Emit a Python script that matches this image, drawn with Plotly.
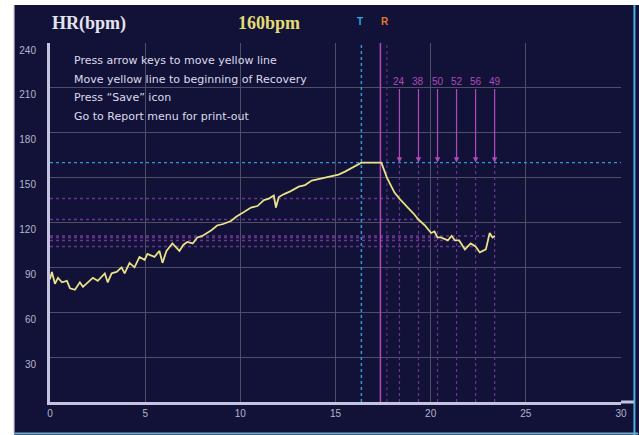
import plotly.graph_objects as go

# ---------------- data ----------------
time_min = [0.0, 0.1, 0.26, 0.42, 0.63, 0.89, 1.05, 1.31, 1.57, 1.73, 1.99, 2.25, 2.51,
            2.88, 3.03, 3.24, 3.50, 3.76, 3.92, 4.18, 4.44, 4.70, 4.97, 5.12, 5.49,
            5.75, 5.91, 6.12, 6.43, 6.80, 7.0, 7.21, 7.5, 7.74, 8.0, 8.26, 8.5, 8.78,
            9.1, 9.51, 9.8, 10.19, 10.56, 10.9, 11.24, 11.5, 11.76, 11.87, 12.02,
            12.3, 12.65, 13.07, 13.4, 13.75, 14.11, 14.6, 15.16, 15.5, 15.8,
            16.36, 16.9, 17.41, 17.7, 17.95, 18.1, 18.36, 18.6, 18.8, 19.1, 19.36,
            19.7, 20.02, 20.2, 20.36, 20.54, 20.9, 21.1, 21.28, 21.5, 21.8, 22.1,
            22.36, 22.58, 22.9, 23.1, 23.25, 23.37]
hr_bpm = [82, 87, 79, 83, 80, 81, 76, 75, 80, 77, 80, 83, 81,
          86, 80, 86, 87, 90, 86, 93, 90, 97, 95, 99, 97,
          101, 93, 101, 106, 101, 105, 107, 106, 110, 111, 113, 115, 118,
          119, 121, 124, 127, 130, 131, 135, 136, 138, 130, 137,
          139, 141, 144, 145, 148, 149, 150, 152, 154, 156,
          160, 160, 160, 150, 143, 140, 136, 133, 130, 126, 122,
          118, 113, 114, 110, 110, 108, 111, 108, 108, 102, 106,
          104, 100, 102, 113, 110, 111]

peak_hr = 160
peak_label = "160bpm"
t_marker = 16.36          # "T" line
r_marker = 17.36          # "R" line (beginning of recovery)
r_marker2 = 17.7
recovery_times = [18.36, 19.36, 20.36, 21.36, 22.36, 23.36]
recovery_drops = [24, 38, 50, 52, 56, 49]

x_ticks = [0, 5, 10, 15, 20, 25, 30]
y_ticks = [30, 60, 90, 120, 150, 180, 210, 240]

instructions = ["Press arrow keys to move yellow line",
                "Move yellow line to beginning of Recovery",
                "Press \u201cSave\u201d icon",
                "Go to Report menu for print-out"]
instr_y = [228.5, 215.8, 203.7, 191.0]

# ---------------- style ----------------
BG = "#121238"
GRID = "#4e4e66"
AXIS = "#c4c4e0"
TICK = "#b4b4cc"
MAG = "#b04ab8"
MAG_DIM = "#6c3490"
CYAN = "#2f98d8"

fig = go.Figure()

# horizontal recovery HR lines
for t, d in zip(recovery_times, recovery_drops):
    fig.add_trace(go.Scatter(x=[0, t], y=[peak_hr - d, peak_hr - d], mode="lines",
                             line=dict(color=MAG_DIM, width=1.5, dash="dot"),
                             hoverinfo="skip", showlegend=False))
# vertical recovery lines below peak level
for t in recovery_times:
    fig.add_trace(go.Scatter(x=[t, t], y=[0, peak_hr], mode="lines",
                             line=dict(color=MAG_DIM, width=1.2, dash="dot"),
                             hoverinfo="skip", showlegend=False))
# peak HR line
fig.add_trace(go.Scatter(x=[0, 30], y=[peak_hr, peak_hr], mode="lines",
                         line=dict(color=CYAN, width=1.2, dash="dot"),
                         hoverinfo="skip", showlegend=False))
# T line
fig.add_trace(go.Scatter(x=[t_marker, t_marker], y=[0, 240], mode="lines",
                         line=dict(color=CYAN, width=1.5, dash="dot"),
                         hoverinfo="skip", showlegend=False))
# R lines
fig.add_trace(go.Scatter(x=[r_marker, r_marker], y=[0, 240], mode="lines",
                         line=dict(color=MAG, width=1.5),
                         hoverinfo="skip", showlegend=False))
fig.add_trace(go.Scatter(x=[r_marker2, r_marker2], y=[0, 240], mode="lines",
                         line=dict(color=MAG_DIM, width=1, dash="dot"),
                         hoverinfo="skip", showlegend=False))
# HR curve
fig.add_trace(go.Scatter(x=time_min, y=hr_bpm, mode="lines",
                         line=dict(color="#ddd56a", width=1.8),
                         hoverinfo="skip", showlegend=False))
fig.add_trace(go.Scatter(x=time_min, y=hr_bpm, mode="lines",
                         line=dict(color="#f2efc8", width=0.6),
                         hoverinfo="skip", showlegend=False))

annotations = []
# recovery arrows with labels
for t, d in zip(recovery_times, recovery_drops):
    annotations.append(dict(x=t, y=peak_hr, ax=t, ay=214, axref="x", ayref="y",
                            xref="x", yref="y", text=str(d), showarrow=True,
                            arrowhead=2, arrowsize=0.9, arrowwidth=1.2, arrowcolor=MAG,
                            font=dict(family="Liberation Sans", size=10, color=MAG)))
for txt, yy in zip(instructions, instr_y):
    annotations.append(dict(x=1.15, y=yy, xref="x", yref="y", text=txt, showarrow=False,
                            xanchor="left", yanchor="middle",
                            font=dict(family="DejaVu Sans", size=11, color="#dcdcec")))
annotations += [
    dict(x=0, y=1.0557, xref="paper", yref="paper", text="<b>HR(bpm)</b>", showarrow=False,
         xanchor="left", yanchor="middle",
         font=dict(family="Liberation Serif", size=18, color="#e4e4f0")),
    dict(x=0.383, y=1.0557, xref="paper", yref="paper", text="<b>" + peak_label + "</b>",
         showarrow=False, xanchor="center", yanchor="middle",
         font=dict(family="Liberation Serif", size=18, color="#e2dc74")),
    dict(x=0.5436, y=1.0585, xref="paper", yref="paper", text="<b>T</b>", showarrow=False,
         xanchor="center", yanchor="middle",
         font=dict(family="Liberation Sans", size=10, color="#30a8e8")),
    dict(x=0.587, y=1.0585, xref="paper", yref="paper", text="<b>R</b>", showarrow=False,
         xanchor="center", yanchor="middle",
         font=dict(family="Liberation Sans", size=10, color="#e07830")),
]

shapes = [
    # white page margins
    dict(type="rect", xref="paper", yref="paper", x0=-0.1, x1=-0.0627, y0=-0.2, y1=1.2,
         fillcolor="white", line=dict(width=0), layer="below"),
    dict(type="line", xref="paper", yref="paper", x0=-0.0627, x1=-0.0627, y0=-0.0877, y1=1.1058,
         line=dict(color="#9a9aaa", width=1), layer="below"),
    dict(type="rect", xref="paper", yref="paper", x0=-0.1, x1=1.1, y0=1.1058, y1=1.2,
         fillcolor="white", line=dict(width=0), layer="below"),
    dict(type="line", xref="paper", yref="paper", x0=1.0235, x1=1.0235, y0=-0.1, y1=1.1058,
         line=dict(color="#4ab0e0", width=2), layer="below"),
    dict(type="line", xref="paper", yref="paper", x0=-0.0627, x1=1.03, y0=-0.0877, y1=-0.0877,
         line=dict(color="#6aaccc", width=2), layer="below"),
    # axis line extension to the right
    dict(type="line", xref="paper", yref="paper", x0=1.0, x1=1.0226, y0=0, y1=0,
         line=dict(color=AXIS, width=3), layer="above"),
]

fig.update_layout(
    width=639, height=435, autosize=False,
    margin=dict(l=50, r=15, t=43, b=33, pad=0),
    paper_bgcolor=BG, plot_bgcolor=BG,
    showlegend=False,
    annotations=annotations,
    shapes=shapes,
)
fig.update_xaxes(range=[0, 30], tickvals=x_ticks, ticktext=[str(v) for v in x_ticks],
                 showgrid=True, gridcolor=GRID, gridwidth=1, zeroline=False,
                 showline=True, linecolor=AXIS, linewidth=3, ticks="",
                 tickfont=dict(family="Liberation Sans", size=10, color=TICK),
                 ticklabelstandoff=0, fixedrange=True)
fig.update_yaxes(range=[0, 240], tickvals=y_ticks, ticktext=[str(v) for v in y_ticks],
                 showgrid=True, gridcolor=GRID, gridwidth=1, zeroline=False,
                 showline=True, linecolor=AXIS, linewidth=3, ticks="",
                 tickfont=dict(family="Liberation Sans", size=10, color=TICK),
                 ticklabelstandoff=9, ticklabelshift=7, fixedrange=True)

fig.write_html("out.html", config={"displayModeBar": False},
               post_script="document.body.style.margin='0';document.body.style.overflow='hidden';")
